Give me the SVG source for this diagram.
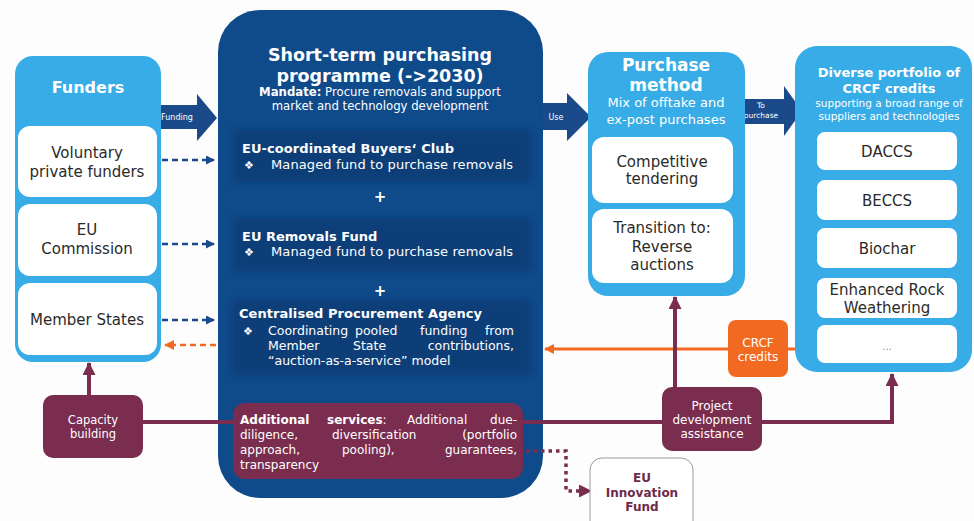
<svg xmlns="http://www.w3.org/2000/svg" width="974" height="521" viewBox="0 0 974 521">
<defs>
<style>
text{font-family:"DejaVu Sans",Verdana,sans-serif;}
.lb{fill:#38ace6;}
.wb{fill:#ffffff;}
.mb{fill:#0f4a8b;}
.mr{fill:#7a2d4f;}
.arw{fill:#1b4a8a;}
.wt{fill:#ffffff;}
.dk{fill:#2a2a2a;}
.b{font-weight:bold;}
.c{text-anchor:middle;}
.e{text-anchor:end;}
.sub{fill:#093a72;opacity:0.75;}
</style>
<filter id="blur" x="-10%" y="-30%" width="120%" height="160%"><feGaussianBlur stdDeviation="3"/></filter>
<marker id="ah-blue" markerUnits="userSpaceOnUse" markerWidth="9" markerHeight="9" refX="8" refY="4.5" orient="auto"><path d="M0,0 L9,4.5 L0,9 z" fill="#1b4a8a"/></marker>
<marker id="ah-orange" markerUnits="userSpaceOnUse" markerWidth="10" markerHeight="10" refX="9" refY="5" orient="auto"><path d="M0,0 L10,5 L0,10 z" fill="#f26a21"/></marker>
<marker id="ah-maroon" markerUnits="userSpaceOnUse" markerWidth="13" markerHeight="13" refX="12" refY="6.5" orient="auto"><path d="M0,0 L13,6.5 L0,13 z" fill="#7a2d4f"/></marker>
</defs>
<rect x="0" y="0" width="974" height="521" fill="#fefdfd"/>

<!-- Main programme box -->
<g id="programme">
<rect class="mb" x="218" y="10" width="325" height="488" rx="42"/>
<text class="wt b c" x="380" y="61" font-size="17.5">Short-term purchasing</text>
<text class="wt b c" x="380" y="82" font-size="17.5">programme (-&gt;2030)</text>
<text class="wt c" x="380" y="96" font-size="11.7"><tspan font-weight="bold">Mandate:</tspan> Procure removals and support</text>
<text class="wt c" x="380" y="110" font-size="11.7">market and technology development</text>
<rect class="sub" x="234" y="130" width="297" height="52" filter="url(#blur)"/>
<rect class="sub" x="234" y="218" width="297" height="54" filter="url(#blur)"/>
<rect class="sub" x="232" y="300" width="299" height="76" filter="url(#blur)"/>
</g>

<!-- Connectors -->
<g id="connectors" fill="none">
<line x1="162" y1="160" x2="214" y2="160" stroke="#1b4a8a" stroke-width="2.5" stroke-dasharray="6 4" marker-end="url(#ah-blue)"/>
<line x1="162" y1="244" x2="214" y2="244" stroke="#1b4a8a" stroke-width="2.5" stroke-dasharray="6 4" marker-end="url(#ah-blue)"/>
<line x1="162" y1="320" x2="214" y2="320" stroke="#1b4a8a" stroke-width="2.5" stroke-dasharray="6 4" marker-end="url(#ah-blue)"/>
<line x1="216" y1="345" x2="165" y2="345" stroke="#f26a21" stroke-width="2.5" stroke-dasharray="6 4" marker-end="url(#ah-orange)"/>
<line x1="796" y1="349" x2="545" y2="349" stroke="#f26a21" stroke-width="3" marker-end="url(#ah-orange)"/>
<polyline points="140,422 892,422 892,374" stroke="#7a2d4f" stroke-width="4" marker-end="url(#ah-maroon)"/>
<line x1="675" y1="390" x2="675" y2="297" stroke="#7a2d4f" stroke-width="4" marker-end="url(#ah-maroon)"/>
<line x1="89" y1="397" x2="89" y2="363" stroke="#7a2d4f" stroke-width="4" marker-end="url(#ah-maroon)"/>
<polyline points="526,451 566,451 566,491 591,491" stroke="#7a2d4f" stroke-width="3.5" stroke-dasharray="3.5 4" marker-end="url(#ah-maroon)"/>
<polygon class="arw" points="156,105 197,105 197,94 217,118 197,141 197,129 156,129"/>
<polygon class="arw" points="543,103 567,103 567,93 591,117 567,141 567,130 543,130"/>
<polygon class="arw" points="738,99 784,99 784,86 802,111 784,136 784,124 738,124"/>
<text class="wt c" x="177" y="120" font-size="8">Funding</text>
<text class="wt c" x="556" y="120" font-size="8">Use</text>
<text class="wt c" x="761" y="108" font-size="7.5">To</text>
<text class="wt c" x="761" y="118" font-size="7.5">purchase</text>
</g>

<!-- Sub-programme texts -->
<g id="buyers-club">
<text class="wt b" x="242" y="153" font-size="13" textLength="212">EU-coordinated Buyers‘ Club</text>
<text class="wt" x="244" y="169" font-size="11">❖</text>
<text class="wt" x="271" y="169" font-size="13" textLength="242">Managed fund to purchase removals</text>
<text class="wt b c" x="380" y="202" font-size="15">+</text>
</g>
<g id="removals-fund">
<text class="wt b" x="242" y="241" font-size="13">EU Removals Fund</text>
<text class="wt" x="244" y="256" font-size="11">❖</text>
<text class="wt" x="271" y="256" font-size="13" textLength="242">Managed fund to purchase removals</text>
<text class="wt b c" x="380" y="296" font-size="15">+</text>
</g>
<g id="procurement-agency">
<text class="wt b" x="239" y="318" font-size="13" textLength="243">Centralised Procurement Agency</text>
<text class="wt" x="243" y="335" font-size="11">❖</text>
<text class="wt" x="268" y="335" font-size="12.5">Coordinating</text>
<text class="wt" x="355" y="335" font-size="12.5">pooled</text>
<text class="wt" x="420" y="335" font-size="12.5">funding</text>
<text class="wt e" x="514" y="335" font-size="12.5">from</text>
<text class="wt" x="268" y="350" font-size="12.5">Member</text>
<text class="wt" x="353" y="350" font-size="12.5">State</text>
<text class="wt e" x="514" y="350" font-size="12.5">contributions,</text>
<text class="wt" x="268" y="365" font-size="12.5">“auction-as-a-service” model</text>
</g>

<!-- Funders -->
<g id="funders">
<rect class="lb" x="15" y="56" width="146" height="306" rx="18"/>
<text class="wt b c" x="88" y="93" font-size="16">Funders</text>
</g>
<g id="voluntary-private-funders">
<rect class="wb" x="18" y="126" width="139" height="71" rx="12"/>
<text class="dk c" x="87" y="158" font-size="15">Voluntary</text>
<text class="dk c" x="87" y="177" font-size="15">private funders</text>
</g>
<g id="eu-commission">
<rect class="wb" x="18" y="204" width="139" height="72" rx="12"/>
<text class="dk c" x="87" y="235" font-size="15">EU</text>
<text class="dk c" x="87" y="254" font-size="15">Commission</text>
</g>
<g id="member-states">
<rect class="wb" x="18" y="283" width="139" height="72" rx="12"/>
<text class="dk c" x="87" y="325" font-size="15">Member States</text>
</g>

<!-- Purchase method -->
<g id="purchase-method">
<rect class="lb" x="588" y="52" width="157" height="244" rx="20"/>
<text class="wt b c" x="666" y="71" font-size="17">Purchase</text>
<text class="wt b c" x="666" y="91" font-size="17">method</text>
<text class="wt c" x="666" y="107" font-size="13">Mix of offtake and</text>
<text class="wt c" x="666" y="124" font-size="13">ex-post purchases</text>
</g>
<g id="competitive-tendering">
<rect class="wb" x="592" y="137" width="141" height="66" rx="12"/>
<text class="dk c" x="662" y="167" font-size="15">Competitive</text>
<text class="dk c" x="662" y="184" font-size="15">tendering</text>
</g>
<g id="reverse-auctions">
<rect class="wb" x="592" y="209" width="141" height="74" rx="12"/>
<text class="dk c" x="662" y="233" font-size="15">Transition to:</text>
<text class="dk c" x="662" y="252" font-size="15">Reverse</text>
<text class="dk c" x="662" y="270" font-size="15">auctions</text>
</g>

<!-- Portfolio -->
<g id="portfolio">
<rect class="lb" x="795" y="46" width="177" height="326" rx="22"/>
<text class="wt b c" x="889" y="77" font-size="13">Diverse portfolio of</text>
<text class="wt b c" x="889" y="93" font-size="13">CRCF credits</text>
<text class="wt c" x="889" y="107" font-size="10.5">supporting a broad range of</text>
<text class="wt c" x="889" y="120" font-size="10.5">suppliers and technologies</text>
</g>
<g id="daccs">
<rect class="wb" x="817" y="132" width="140" height="38" rx="8"/>
<text class="dk c" x="887" y="157" font-size="15">DACCS</text>
</g>
<g id="beccs">
<rect class="wb" x="817" y="180" width="140" height="40" rx="8"/>
<text class="dk c" x="887" y="206" font-size="15">BECCS</text>
</g>
<g id="biochar">
<rect class="wb" x="817" y="228" width="140" height="40" rx="8"/>
<text class="dk c" x="887" y="254" font-size="15">Biochar</text>
</g>
<g id="enhanced-rock-weathering">
<rect class="wb" x="817" y="278" width="140" height="40" rx="8"/>
<text class="dk c" x="887" y="295" font-size="15">Enhanced Rock</text>
<text class="dk c" x="887" y="313" font-size="15">Weathering</text>
</g>
<g id="other-technologies">
<rect class="wb" x="817" y="325" width="140" height="38" rx="8"/>
<text class="c" x="887" y="350" font-size="10" fill="#8a8a8a">...</text>
</g>

<!-- CRCF credits -->
<g id="crcf-credits">
<rect x="728" y="320" width="60" height="57" rx="8" fill="#f26a21"/>
<text class="wt c" x="758" y="347" font-size="12">CRCF</text>
<text class="wt c" x="758" y="361" font-size="12">credits</text>
</g>

<!-- Capacity building -->
<g id="capacity-building">
<rect class="mr" x="43" y="395" width="100" height="63" rx="10"/>
<text class="wt c" x="93" y="424" font-size="11.5">Capacity</text>
<text class="wt c" x="93" y="438" font-size="11.5">building</text>
</g>

<!-- Additional services -->
<g id="additional-services">
<rect class="mr" x="233" y="403" width="290" height="76" rx="12"/>
<text class="wt b" x="240" y="424" font-size="12">Additional</text>
<text class="wt" x="327" y="424" font-size="12"><tspan font-weight="bold">services</tspan>:</text>
<text class="wt" x="407" y="424" font-size="12">Additional</text>
<text class="wt e" x="517" y="424" font-size="12">due-</text>
<text class="wt" x="240" y="439" font-size="12">diligence,</text>
<text class="wt" x="332" y="439" font-size="12">diversification</text>
<text class="wt e" x="517" y="439" font-size="12">(portfolio</text>
<text class="wt" x="240" y="454" font-size="12">approach,</text>
<text class="wt" x="342" y="454" font-size="12">pooling),</text>
<text class="wt e" x="517" y="454" font-size="12">guarantees,</text>
<text class="wt" x="240" y="469" font-size="12">transparency</text>
</g>

<!-- Project development assistance -->
<g id="project-development-assistance">
<rect class="mr" x="662" y="387" width="100" height="64" rx="10"/>
<text class="wt c" x="712" y="410" font-size="12">Project</text>
<text class="wt c" x="712" y="424" font-size="12">development</text>
<text class="wt c" x="712" y="438" font-size="12">assistance</text>
</g>

<!-- EU Innovation Fund -->
<g id="eu-innovation-fund">
<rect x="590" y="458" width="103" height="75" rx="12" fill="#ffffff" stroke="#9a9a9a" stroke-width="1"/>
<text class="b c" x="642" y="482" font-size="12" fill="#6e2a48">EU</text>
<text class="b c" x="642" y="497" font-size="12" fill="#6e2a48">Innovation</text>
<text class="b c" x="642" y="511" font-size="12" fill="#6e2a48">Fund</text>
</g>
</svg>
